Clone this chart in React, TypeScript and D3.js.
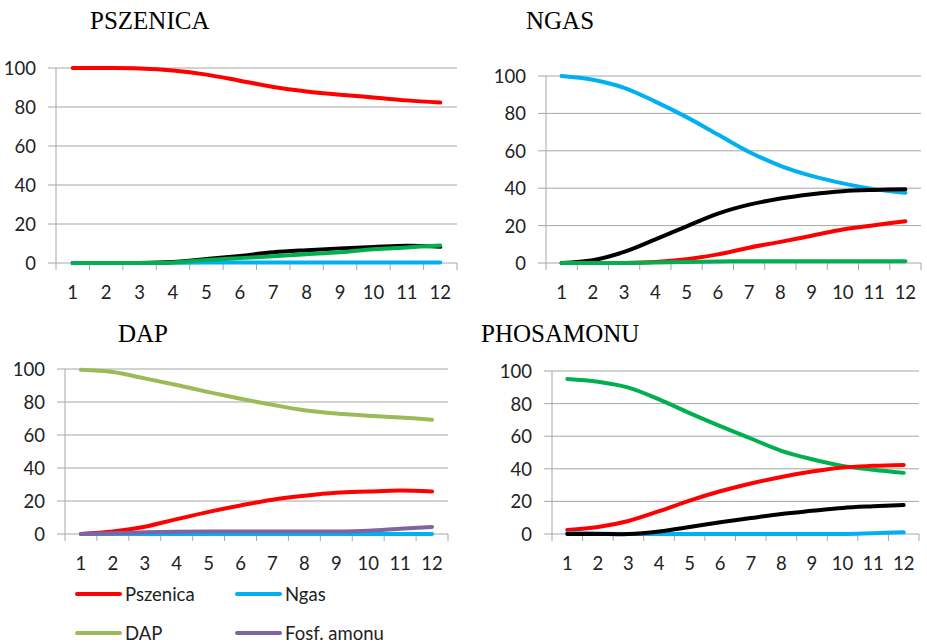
import React from "react";
import * as d3 from "d3";

const categories = ["1", "2", "3", "4", "5", "6", "7", "8", "9", "10", "11", "12"];
const yTicks = [0, 20, 40, 60, 80, 100];

// PSZENICA panel
const pszRed = [100, 100, 99.8, 98.7, 96.6, 93.5, 90.3, 88, 86.3, 84.9, 83.4, 82.3];
const pszBlue = [0, 0, 0, 0.1, 0.2, 0.2, 0.2, 0.2, 0.2, 0.2, 0.2, 0.2];
const pszGreen = [0, 0, 0, 0.3, 1.5, 2.5, 3.5, 4.5, 5.5, 7, 8, 9];
const pszBlack = [0, 0, 0, 0.5, 2, 3.6, 5.5, 6.6, 7.5, 8.2, 8.8, 8.3];

// NGAS panel
const ngasBlue = [100, 98, 93.7, 86.3, 78, 68.7, 59.4, 52, 46.6, 42.6, 39.5, 37.5];
const ngasBlack = [0, 1.5, 5.9, 12.6, 19.6, 26.4, 31.2, 34.5, 36.8, 38.4, 39.1, 39.5];
const ngasRed = [0, 0, 0, 0.5, 2, 4.6, 8.2, 11.3, 14.6, 17.9, 20.2, 22.3];
const ngasGreen = [0, 0, 0, 0.3, 0.5, 0.8, 1, 1, 1, 1, 1, 1];

// DAP panel
const dapGreen = [99.5, 98.2, 94.3, 90.3, 86, 82, 78.3, 75, 73, 71.7, 70.6, 69.3];
const dapRed = [0, 1.5, 4.4, 9, 13.4, 17.3, 20.8, 23.2, 25, 25.7, 26.3, 25.8];
const dapBlue = [0, 0, 0, 0, 0, 0, 0, 0, 0, 0, 0, 0];
const dapPurple = [0, 0.5, 1, 1.3, 1.5, 1.5, 1.5, 1.5, 1.5, 2, 3.2, 4.3];

// PHOSAMONU panel
const phoGreen = [95.1, 93.4, 89.8, 82.6, 74.2, 66.2, 58.6, 51, 45.9, 41.8, 39.4, 37.5];
const phoRed = [2.5, 4.3, 8, 14, 20.5, 26.2, 31, 35, 38.3, 40.8, 41.8, 42.4];
const phoBlack = [0, 0, 0, 1.6, 4.3, 7.2, 9.8, 12.3, 14.2, 16, 17, 17.8];
const phoBlue = [0.5, 0.3, 0, 0, 0, 0, 0, 0, 0, 0, 0.5, 1];

const legendLabels = ["Pszenica", "Ngas", "DAP", "Fosf. amonu"];

const RED = "#FF0000";
const BLUE = "#00B0F0";
const BLACK = "#000000";
const GREEN = "#00B050";
const OLIVE = "#9BBB59";
const PURPLE = "#8064A2";
const legendColors = [RED, BLUE, OLIVE, PURPLE];

type Series = { values: number[]; color: string };
type Panel = {
  title: string;
  titleX: number;
  titleY: number;
  left: number;
  right: number;
  top: number;
  bottom: number;
  series: Series[];
};

const panels: Panel[] = [
  {
    title: "PSZENICA", titleX: 90, titleY: 29, left: 56, right: 457, top: 68, bottom: 263,
    series: [
      { values: pszRed, color: RED },
      { values: pszBlue, color: BLUE },
      { values: pszBlack, color: BLACK },
      { values: pszGreen, color: GREEN },
    ],
  },
  {
    title: "NGAS", titleX: 526, titleY: 29, left: 546, right: 921, top: 76, bottom: 263,
    series: [
      { values: ngasBlue, color: BLUE },
      { values: ngasRed, color: RED },
      { values: ngasBlack, color: BLACK },
      { values: ngasGreen, color: GREEN },
    ],
  },
  {
    title: "DAP", titleX: 118, titleY: 342, left: 65, right: 448, top: 369, bottom: 534,
    series: [
      { values: dapGreen, color: OLIVE },
      { values: dapRed, color: RED },
      { values: dapBlue, color: BLUE },
      { values: dapPurple, color: PURPLE },
    ],
  },
  {
    title: "PHOSAMONU", titleX: 481, titleY: 342, left: 552, right: 919, top: 371, bottom: 534,
    series: [
      { values: phoGreen, color: GREEN },
      { values: phoRed, color: RED },
      { values: phoBlue, color: BLUE },
      { values: phoBlack, color: BLACK },
    ],
  },
];

const SANS = "Lato, 'Open Sans', sans-serif";
const GRID = "#A6A6A6";
const FS = 18.5;

function ChartPanel({ p }: { p: Panel }) {
  const x = d3.scaleBand<string>().domain(categories).range([p.left, p.right]).padding(0);
  const y = d3.scaleLinear().domain([0, 100]).range([p.bottom, p.top]);
  const line = d3
    .line<number>()
    .x((_, i) => (x(categories[i]) as number) + x.bandwidth() / 2)
    .y((d) => y(d))
    .curve(d3.curveCatmullRom.alpha(0.5));
  const boundaries = d3.range(categories.length + 1).map((i) => p.left + i * x.bandwidth());
  return (
    <g>
      <text x={p.titleX} y={p.titleY} fontFamily="'Liberation Serif', 'Times New Roman', serif" fontSize={25} fill="#000">
        {p.title}
      </text>
      {yTicks.map((t) => (
        <g key={t}>
          <line x1={p.left - 8} x2={p.right} y1={y(t)} y2={y(t)} stroke={GRID} strokeWidth={1} />
          <text x={p.left - 20} y={y(t)} textAnchor="end" dominantBaseline="central" fontFamily={SANS} fontSize={FS} fill="#222">
            {t}
          </text>
        </g>
      ))}
      <line x1={p.left} x2={p.left} y1={p.top} y2={p.bottom} stroke={GRID} strokeWidth={1} />
      {boundaries.map((bx, i) => (
        <line key={i} x1={bx} x2={bx} y1={p.bottom} y2={p.bottom + 7} stroke={GRID} strokeWidth={1} />
      ))}
      {categories.map((c) => (
        <text key={c} x={(x(c) as number) + x.bandwidth() / 2} y={p.bottom + 29} textAnchor="middle" dominantBaseline="central" fontFamily={SANS} fontSize={FS} fill="#222">
          {c}
        </text>
      ))}
      {p.series.map((s, i) => (
        <path key={i} d={line(s.values) || ""} fill="none" stroke={s.color} strokeWidth={4} strokeLinecap="round" strokeLinejoin="round" />
      ))}
    </g>
  );
}

export default function App() {
  const legendPos = [
    { x: 77, y: 594 },
    { x: 237, y: 594 },
    { x: 77, y: 633 },
    { x: 237, y: 633 },
  ];
  return (
    <svg width={927} height={643} style={{ position: "absolute", left: 0, top: 0, background: "#fff" }}>
      <rect x={0} y={0} width={927} height={643} fill="#fff" />
      {panels.map((p) => (
        <ChartPanel key={p.title} p={p} />
      ))}
      {legendLabels.map((l, i) => (
        <g key={l}>
          <line x1={legendPos[i].x} x2={legendPos[i].x + 43} y1={legendPos[i].y} y2={legendPos[i].y} stroke={legendColors[i]} strokeWidth={4} strokeLinecap="round" />
          <text x={legendPos[i].x + 48} y={legendPos[i].y} dominantBaseline="central" fontFamily={SANS} fontSize={FS} fill="#222">
            {l}
          </text>
        </g>
      ))}
    </svg>
  );
}
